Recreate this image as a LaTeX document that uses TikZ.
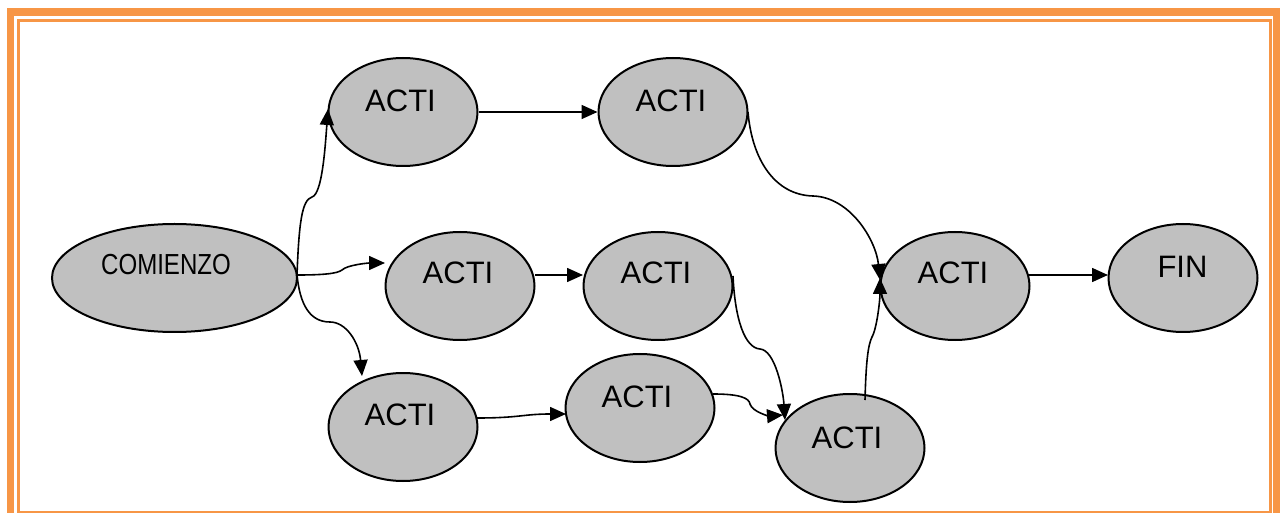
\documentclass[tikz,border=0pt]{standalone}
\usepackage{fontspec}
\usepackage{graphicx}
\setmainfont{Liberation Sans}
\usetikzlibrary{arrows.meta,calc,shapes.geometric}
\definecolor{frameorange}{HTML}{F79646}
\definecolor{nodegray}{HTML}{C0C0C0}
\begin{document}
\begin{tikzpicture}[x=0.5pt,y=-0.5pt,
  act/.style={ellipse, draw=black, line width=1pt, fill=nodegray,
    minimum width=74.5pt, minimum height=54pt, inner sep=0pt},
  startnode/.style={act, minimum width=122.5pt},
  lbl/.style={anchor=base, inner sep=0pt, font=\fontsize{15.5}{18}\selectfont},
  flow/.style={line width=0.8pt, -{Triangle[length=8pt,width=7pt]}}
]
\useasboundingbox (0,0) rectangle (1280,513);

% double orange frame
\begin{scope}
  \clip (0,0) rectangle (1280,513);
  \draw[frameorange, line width=3.75pt] (10.5,12) rectangle (1276.5,530);
  \draw[frameorange, line width=1.5pt] (18.5,20.5) rectangle (1270,512);
\end{scope}

% activities
\node[startnode] (com) at (174.5,278) {};
\node[act] (a1) at (403,112) {};
\node[act] (a2) at (673,112) {};
\node[act] (a3) at (460,286) {};
\node[act] (a4) at (658,286) {};
\node[act] (a5) at (403,427) {};
\node[act] (a6) at (640,408) {};
\node[act] (a7) at (850,448) {};
\node[act] (a8) at (955,286) {};
\node[act] (fin) at (1183,278) {};

% labels
\node[lbl, font=\fontsize{14.5}{17}\selectfont] (tcom) at (166,274.3) {\scalebox{0.83}[1]{COMIENZO}};
\node[lbl] (t1) at (400.5,111.5) {ACTI};
\node[lbl] (t2) at (671,111.5) {ACTI};
\node[lbl] (t3) at (458,283.5) {ACTI};
\node[lbl] (t4) at (656,283.5) {ACTI};
\node[lbl] (t5) at (400,425.5) {ACTI};
\node[lbl] (t6) at (637,407.5) {ACTI};
\node[lbl] (t7) at (847,448.5) {ACTI};
\node[lbl] (t8) at (953,283.5) {ACTI};
\node[lbl] (tf) at (1182.5,277.5) {FIN};

% connectors
\coordinate (cs) at ($(com.center)+(122.5,-3)$);
\draw[flow] (cs) .. controls (299,222) and (302,200) .. (312,197)
  .. controls (322,194) and (325,150) .. ($(a1.center)+(-75,-3)$);
\draw[flow] (cs) .. controls (320,275) and (337,274) .. (342,270)
  .. controls (347,265) and (368,263) .. ($(a3.center)+(-75,-23)$);
\draw[flow] (cs) .. controls (300,305) and (310,322) .. (330,322)
  .. controls (346,322) and (359,342) .. ($(a5.center)+(-41,-51)$);

\draw[flow] (a1.east) -- (a2.west);
\draw[flow] ($(a3.center)+(75,-11)$) -- ($(a4.center)+(-75,-11)$);
\draw[flow] ($(a5.center)+(74,-9)$) .. controls (520,418) and (523,414)
  .. ($(a6.center)+(-74,6)$);

\draw[flow] ($(a2.center)+(75,0)$) .. controls (752,160) and (775,195) .. (813,196)
  .. controls (850,197) and (876,240) .. ($(a8.center)+(-75,-6)$);
\draw[flow] ($(a7.center)+(15,-48)$) .. controls (866,362) and (868,345) .. (872,337)
  .. controls (877,328) and (880,300) .. ($(a8.center)+(-75,-8)$);
\draw[flow] ($(a4.center)+(75,-10)$) .. controls (735,320) and (745,348) .. (760,349)
  .. controls (775,350) and (783,390) .. ($(a7.center)+(-65,-28)$);
\draw[flow] ($(a6.center)+(73,-14)$) .. controls (740,394) and (749,398) .. (750,404)
  .. controls (752,412) and (770,416) .. ($(a7.center)+(-67,-33)$);

\draw[flow] ($(a8.center)+(74,-11)$) -- ($(fin.center)+(-75,-3)$);
\end{tikzpicture}
\end{document}
